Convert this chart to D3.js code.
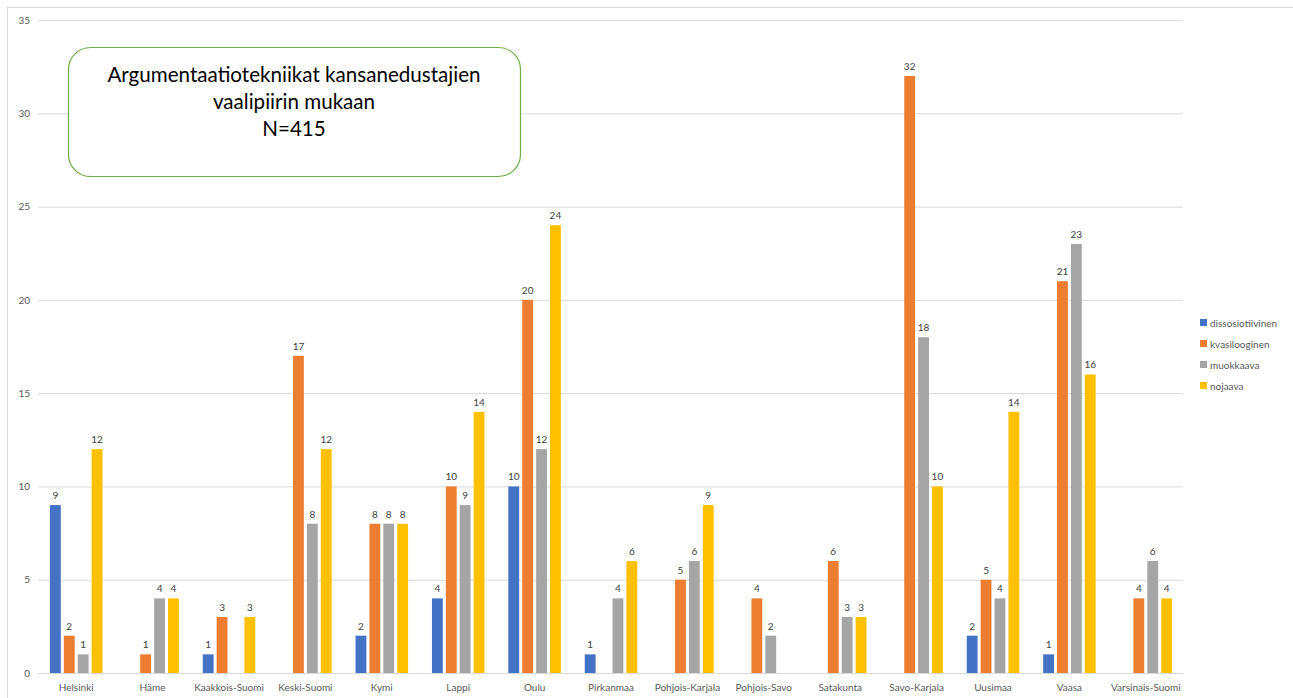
<!DOCTYPE html>
<html><head><meta charset="utf-8">
<script src="https://cdn.jsdelivr.net/npm/d3@7"></script>
<style>body{margin:0;background:#fff;}svg{display:block;font-family:Lato,"Open Sans",sans-serif;}</style>
</head><body>
<svg id="c" width="1293" height="698"></svg>
<script>
const categories = ["Helsinki","Häme","Kaakkois-Suomi","Keski-Suomi","Kymi","Lappi","Oulu","Pirkanmaa","Pohjois-Karjala","Pohjois-Savo","Satakunta","Savo-Karjala","Uusimaa","Vaasa","Varsinais-Suomi"];
const seriesNames = ["dissosiotiivinen","kvasilooginen","muokkaava","nojaava"];
const dissosiotiivinen = [9,null,1,null,2,4,10,1,null,null,null,null,2,1,null];
const kvasilooginen = [2,1,3,17,8,10,20,null,5,4,6,32,5,21,4];
const muokkaava = [1,4,null,8,8,9,12,4,6,2,3,18,4,23,6];
const nojaava = [12,4,3,12,8,14,24,6,9,null,3,10,14,16,4];
const yTicks = [0,5,10,15,20,25,30,35];
const colors = ["#4472C4","#ED7D31","#A5A5A5","#FFC000"];
const titleLines = ["Argumentaatiotekniikat kansanedustajien","vaalipiirin mukaan","N=415"];

const seriesValues = [dissosiotiivinen,kvasilooginen,muokkaava,nojaava];
const svg = d3.select("#c");
// outer frame
svg.append("rect").attr("x",7.5).attr("y",7.5).attr("width",1290).attr("height",700).attr("fill","none").attr("stroke","#d9d9d9");

const x0 = d3.scaleBand().domain(categories).range([38,1184]).paddingInner(0).paddingOuter(0);
const x1 = d3.scaleBand().domain(seriesNames).range([0,x0.bandwidth()]).paddingInner(0.22).paddingOuter(0.86);
const y = d3.scaleLinear().domain([0,35]).range([673,20]);

// gridlines
svg.append("g").selectAll("line").data(yTicks).join("line")
  .attr("x1",38).attr("x2",1183).attr("y1",d=>y(d)+0.5).attr("y2",d=>y(d)+0.5)
  .attr("stroke","#d9d9d9").attr("stroke-width",1);

// y axis labels
const yAxis = d3.axisLeft(y).tickValues(yTicks).tickSize(0).tickPadding(0);
const yg = svg.append("g").attr("transform","translate(30,0)").call(yAxis);
yg.select(".domain").remove();
yg.selectAll("text").attr("fill","#595959").attr("font-size",10).attr("text-anchor","end").attr("font-family","Lato,sans-serif");

// bars
const groups = svg.append("g").selectAll("g").data(categories).join("g")
  .attr("transform",d=>`translate(${x0(d)},0)`);
groups.each(function(cat,ci){
  const g = d3.select(this);
  const recs = seriesNames.map((s,si)=>({s,si,v:seriesValues[si][ci]})).filter(d=>d.v!=null && d.v>0);
  g.selectAll("rect").data(recs).join("rect")
    .attr("x",d=>x1(d.s)).attr("width",x1.bandwidth())
    .attr("y",d=>y(d.v)).attr("height",d=>y(0)-y(d.v))
    .attr("fill",d=>colors[d.si]);
  g.selectAll("text").data(recs).join("text")
    .attr("x",d=>x1(d.s)+x1.bandwidth()/2).attr("y",d=>y(d.v)-6)
    .attr("text-anchor","middle").attr("font-size",10).attr("fill","#404040")
    .text(d=>d.v);
});

// x axis labels
const xAxis = d3.axisBottom(x0).tickSize(0).tickPadding(0);
const xg = svg.append("g").attr("transform","translate(0,684)").call(xAxis);
xg.select(".domain").remove();
xg.selectAll("text").attr("fill","#595959").attr("font-size",10).attr("font-family","Lato,sans-serif");

// legend
const lg = svg.append("g").attr("transform","translate(1200,323)");
seriesNames.forEach((s,i)=>{
  lg.append("rect").attr("x",0).attr("y",i*21-4).attr("width",7).attr("height",7).attr("fill",colors[i]);
  lg.append("text").attr("x",10).attr("y",i*21+3.5).attr("font-size",10).attr("fill","#595959").text(s);
});

// title box
svg.append("rect").attr("x",68.5).attr("y",47.5).attr("width",452).attr("height",129).attr("rx",22).attr("ry",22)
  .attr("fill","#fff").attr("stroke","#70AD47").attr("stroke-width",1.2);
svg.append("g").selectAll("text").data(titleLines).join("text")
  .attr("x",294).attr("y",(d,i)=>82+i*27).attr("text-anchor","middle")
  .attr("font-size",20.6).attr("fill","#000").text(d=>d);
</script>
</body></html>
